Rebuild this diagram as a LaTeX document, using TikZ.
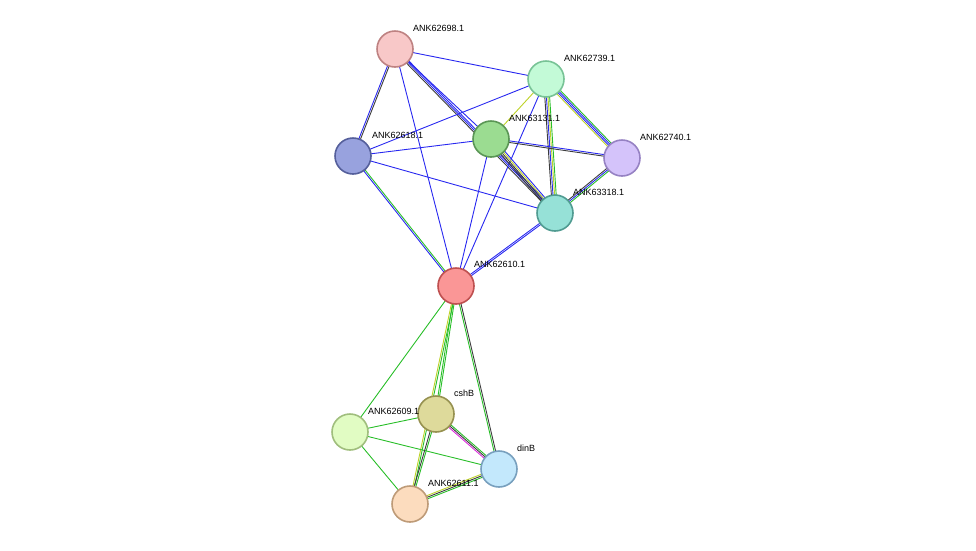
\documentclass[tikz,border=0pt]{standalone}
\usepackage{fontspec}
\setmainfont{Liberation Sans}
\usetikzlibrary{calc,positioning,backgrounds}
\definecolor{sblue}{RGB}{40,40,240}
\definecolor{sgreen}{RGB}{40,190,40}
\definecolor{syel}{RGB}{190,210,40}
\definecolor{sblk}{RGB}{60,60,60}
\definecolor{smag}{RGB}{220,40,220}
\newcommand\stredge[4]{% from, to, count, colours
  \foreach \c [count=\n] in {#4}{
    \pgfmathsetmacro\off{(\n-(#3+1)/2)*1.6}
    \draw[\c, line width=0.9pt] ($(#1)!\off pt!90:(#2)$) -- ($(#2)!\off pt!-90:(#1)$);
  }}
\begin{document}
\begin{tikzpicture}[x=1pt,y=-1pt]
\tikzset{prot/.style={circle, draw, line width=1.6pt, minimum size=36pt, inner sep=0pt},
  lbl/.style={anchor=west, font=\fontsize{9}{10}\selectfont, inner sep=0pt}}
\useasboundingbox (0,0) rectangle (976,550);
\node[prot, fill={rgb,255:red,248;green,200;blue,200}, draw={rgb,255:red,190;green,130;blue,130}] (p98) at (395,49) {};
\node[prot, fill={rgb,255:red,195;green,250;blue,215}, draw={rgb,255:red,120;green,195;blue,150}] (p39) at (546,79) {};
\node[prot, fill={rgb,255:red,152;green,162;blue,222}, draw={rgb,255:red,85;green,95;blue,155}] (p18) at (353,156) {};
\node[prot, fill={rgb,255:red,155;green,220;blue,145}, draw={rgb,255:red,90;green,150;blue,85}] (p31) at (491,139) {};
\node[prot, fill={rgb,255:red,212;green,195;blue,250}, draw={rgb,255:red,150;green,130;blue,195}] (p40) at (622,158) {};
\node[prot, fill={rgb,255:red,150;green,225;blue,215}, draw={rgb,255:red,80;green,155;blue,145}] (p318) at (555,213) {};
\node[prot, fill={rgb,255:red,250;green,150;blue,150}, draw={rgb,255:red,190;green,80;blue,80}] (p10) at (456,286) {};
\node[prot, fill={rgb,255:red,225;green,252;blue,195}, draw={rgb,255:red,160;green,190;blue,125}] (p09) at (350,432) {};
\node[prot, fill={rgb,255:red,222;green,218;blue,155}, draw={rgb,255:red,150;green,145;blue,80}] (csh) at (436,414) {};
\node[prot, fill={rgb,255:red,195;green,232;blue,252}, draw={rgb,255:red,120;green,160;blue,190}] (din) at (499,469) {};
\node[prot, fill={rgb,255:red,252;green,220;blue,190}, draw={rgb,255:red,190;green,155;blue,120}] (p11) at (410,504) {};
\begin{scope}[on background layer]
\stredge{p98}{p39}{1}{sblue}
\stredge{p98}{p18}{2}{sblue,sblk}
\stredge{p98}{p31}{1}{sblue}
\stredge{p98}{p318}{3}{sblk,sblue,sblue}
\stredge{p98}{p10}{1}{sblue}
\stredge{p39}{p18}{1}{sblue}
\stredge{p39}{p31}{1}{syel}
\stredge{p39}{p318}{4}{sblk,sblue,syel,sgreen}
\stredge{p39}{p40}{4}{syel,sblue,sblue,sgreen}
\stredge{p39}{p10}{1}{sblue}
\stredge{p18}{p31}{1}{sblue}
\stredge{p18}{p318}{1}{sblue}
\stredge{p18}{p10}{2}{sblue,sgreen}
\stredge{p31}{p40}{2}{sblk,sblue}
\stredge{p31}{p318}{4}{sblk,sblk,syel,sblue}
\stredge{p31}{p10}{1}{sblue}
\stredge{p40}{p318}{3}{sblk,sblue,sgreen}
\stredge{p318}{p10}{2}{sblue,sblue}
\stredge{p10}{p09}{1}{sgreen}
\stredge{p10}{csh}{2}{sgreen,sgreen}
\stredge{p10}{p11}{2}{syel,sgreen}
\stredge{p10}{din}{2}{sgreen,sblk}
\stredge{p09}{csh}{1}{sgreen}
\stredge{p09}{din}{1}{sgreen}
\stredge{p09}{p11}{1}{sgreen}
\stredge{csh}{din}{3}{smag,sblk,sgreen}
\stredge{csh}{p11}{2}{sblk,sgreen}
\stredge{din}{p11}{3}{syel,sblk,sgreen}
\end{scope}
\node[lbl] (l98) at (413,28) {ANK62698.1};
\node[lbl] (l39) at (564,58) {ANK62739.1};
\node[lbl] (l18) at (372,135) {ANK62618.1};
\node[lbl] (l31) at (509,118) {ANK63131.1};
\node[lbl] (l40) at (640,137) {ANK62740.1};
\node[lbl] (l318) at (573,192) {ANK63318.1};
\node[lbl] (l10) at (474,264) {ANK62610.1};
\node[lbl] (l09) at (368,411) {ANK62609.1};
\node[lbl] (lcsh) at (454,393) {cshB};
\node[lbl] (ldin) at (517,448) {dinB};
\node[lbl] (l11) at (428,483) {ANK62611.1};
\end{tikzpicture}
\end{document}
